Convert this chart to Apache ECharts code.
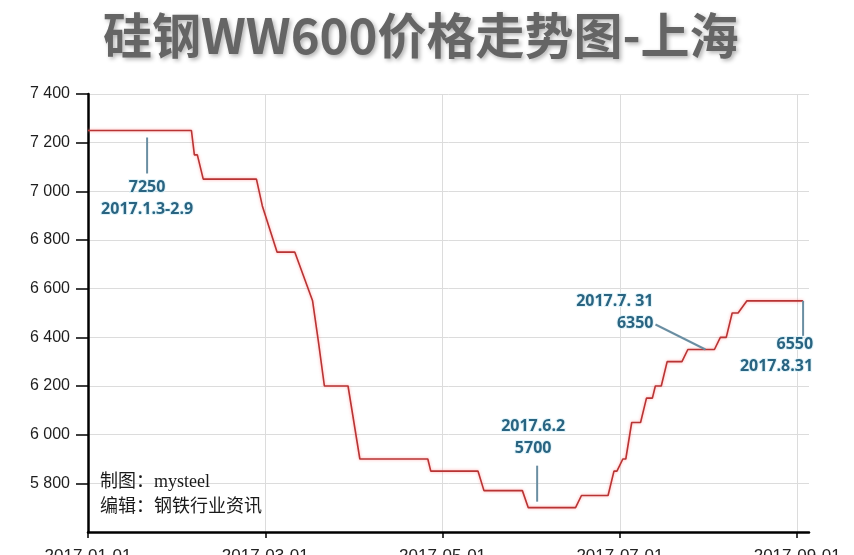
<!DOCTYPE html>
<html><head><meta charset="utf-8">
<script src="https://cdn.jsdelivr.net/npm/echarts@6/dist/echarts.min.js"></script>
<style>html,body{margin:0;padding:0;background:#fff}#c{width:854px;height:555px}</style>
</head><body><div id="c"></div>
<script>
// ---- data ----
const titleText = '硅钢WW600价格走势图-上海';
const dates = ['2017-01-01','2017-02-05','2017-02-06','2017-02-07','2017-02-09','2017-02-27','2017-03-01','2017-03-06','2017-03-12','2017-03-18','2017-03-20','2017-03-22','2017-03-30','2017-04-03','2017-04-26','2017-04-27','2017-05-13','2017-05-15','2017-05-28','2017-05-30','2017-06-15','2017-06-17','2017-06-26','2017-06-28','2017-06-29','2017-07-01','2017-07-02','2017-07-04','2017-07-07','2017-07-09','2017-07-11','2017-07-12','2017-07-14','2017-07-16','2017-07-21','2017-07-23','2017-08-01','2017-08-03','2017-08-05','2017-08-07','2017-08-09','2017-08-12','2017-08-31'];
const prices = [7250,7250,7150,7150,7050,7050,6940,6750,6750,6550,6380,6200,6200,5900,5900,5850,5850,5770,5770,5700,5700,5750,5750,5850,5850,5900,5900,6050,6050,6150,6150,6200,6200,6300,6300,6350,6350,6400,6400,6500,6500,6550,6550];
const tickDays = [0, 60, 120, 180, 240];
const tickLabels = ['2017-01-01','2017-03-01','2017-05-01','2017-07-01','2017-09-01'];
const annDates = ['2017-01-21','2017-06-02','2017-07-31','2017-08-31'];
const annValues = [7250, 5700, 6350, 6550];
const annTexts = [['7250','2017.1.3-2.9'],['2017.6.2','5700'],['2017.7. 31','6350'],['6550','2017.8.31']];
const creditTexts = ['制图：mysteel', '编辑：钢铁行业资讯'];

// ---- layout of annotations (pixel offsets from the anchor point) ----
const annLayout = [
  {line: [[0, 7], [0, 43]], align: 'center', tx: 0, ty: [57, 79]},
  {line: [[0, -6], [0, -42]], align: 'center', tx: -4, ty: [-81, -59]},
  {line: [[-6, 0], [-56, -25]], align: 'right', tx: -58, ty: [-48, -26]},
  {line: [[0, 0], [0, 35]], align: 'right', tx: 10, ty: [44, 66]}
];

const base = Date.UTC(2017, 0, 1);
function dayOf(s) {
  const p = s.split('-').map(Number);
  return (Date.UTC(p[0], p[1] - 1, p[2]) - base) / 86400000;
}
const seriesData = dates.map((d, i) => [dayOf(d), prices[i]]);

const chart = echarts.init(document.getElementById('c'), null, {renderer: 'canvas'});
chart.setOption({
  animation: false,
  backgroundColor: '#fff',
  title: {
    text: titleText, left: 98, top: 6,
    textStyle: {
      fontSize: 49, fontWeight: 'bold', color: '#656565',
      fontFamily: '"Noto Sans CJK SC", sans-serif',
      textShadowColor: 'rgba(0,0,0,0.3)', textShadowBlur: 4,
      textShadowOffsetX: 2, textShadowOffsetY: 2
    }
  },
  grid: {left: 88, right: 45, top: 94, bottom: 23, containLabel: false, outerBoundsMode: 'none'},
  xAxis: {
    type: 'value', min: 0, max: 244,
    axisLine: {show: true, onZero: false, lineStyle: {color: '#000', width: 2.5}},
    axisTick: {show: true, length: 6, customValues: tickDays, lineStyle: {color: '#000', width: 1.5}},
    axisLabel: {
      customValues: tickDays, margin: 16, fontSize: 17, color: '#222',
      fontFamily: 'Arial, "Liberation Sans", sans-serif',
      formatter: v => tickLabels[tickDays.indexOf(v)] || ''
    },
    splitLine: {show: true, lineStyle: {color: '#dcdcdc', width: 1}}
  },
  yAxis: {
    type: 'value', min: 5600, max: 7400, interval: 200,
    axisLine: {show: true, lineStyle: {color: '#000', width: 2.5}},
    axisTick: {show: true, length: 12, lineStyle: {color: '#000', width: 1.5}},
    axisLabel: {
      showMinLabel: false, margin: 18, fontSize: 16, color: '#1e1e1e',
      fontFamily: 'Arial, "Liberation Sans", sans-serif',
      formatter: v => String(v).replace(/\B(?=(\d{3})+(?!\d))/g, ' ')
    },
    splitLine: {show: true, lineStyle: {color: '#dcdcdc', width: 1}}
  },
  series: [{
    type: 'line', data: seriesData, showSymbol: false, symbol: 'none',
    lineStyle: {color: '#b83434', width: 1.6, shadowColor: 'rgba(255,140,140,0.8)', shadowBlur: 3}
  }]
});

const graphics = [];
annDates.forEach((d, i) => {
  const pt = chart.convertToPixel({gridIndex: 0}, [dayOf(d), annValues[i]]);
  const L = annLayout[i];
  graphics.push({
    type: 'line', z: 10,
    shape: {x1: pt[0] + L.line[0][0], y1: pt[1] + L.line[0][1], x2: pt[0] + L.line[1][0], y2: pt[1] + L.line[1][1]},
    style: {stroke: '#6a8ea2', lineWidth: 2}
  });
  annTexts[i].forEach((t, j) => {
    graphics.push({
      type: 'text', z: 11, x: pt[0] + L.tx, y: pt[1] + L.ty[j],
      style: {
        text: t, fill: '#2a6481', font: 'bold 16px "Open Sans", "Noto Sans", sans-serif',
        textAlign: L.align, textVerticalAlign: 'middle',
        stroke: 'rgba(222,243,250,0.9)', lineWidth: 2
      }
    });
  });
});
creditTexts.forEach((t, j) => {
  graphics.push({
    type: 'text', z: 12, x: 100, y: 482 + j * 25,
    style: {
      text: t, fill: '#1a1a1a', font: '18px "Liberation Serif", "Noto Sans CJK SC", serif',
      textVerticalAlign: 'middle'
    }
  });
});
chart.setOption({graphic: graphics});
</script>
</body></html>
